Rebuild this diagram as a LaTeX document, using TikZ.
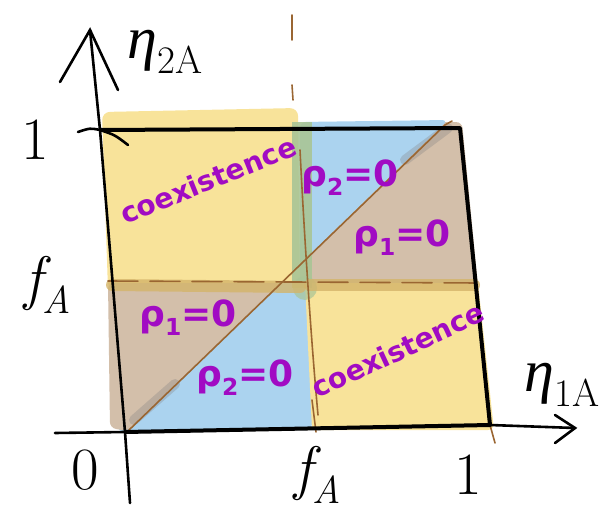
\documentclass[tikz,border=0pt]{standalone}
\usepackage{fontspec}
\newfontfamily\grk{Liberation Serif}
\newfontfamily\hand{DejaVu Sans}
\newcommand{\lowsub}[1]{\raisebox{-0.25em}{\scalebox{0.65}{#1}}}
\definecolor{yel}{HTML}{F8E39A}
\definecolor{blu}{HTML}{ABD3EF}
\definecolor{brn}{HTML}{D3BFAA}
\definecolor{grn}{HTML}{A9C596}
\definecolor{lin}{HTML}{9A6632}
\definecolor{pur}{HTML}{A10BC3}
\definecolor{band}{HTML}{D4B46A}
\begin{document}
\begin{tikzpicture}[x=1pt,y=-1pt,
  axis/.style={line width=2.6pt,black,line cap=round},
  frame/.style={line width=4pt,black,line join=round},
  guide/.style={line width=1.6pt,lin,line cap=round},
  blab/.style={font=\fontsize{60}{60}\selectfont,black},
  plab/.style={font=\fontsize{36}{36}\selectfont\hand\bfseries,pur},
  clab/.style={font=\fontsize{28}{28}\selectfont\hand\bfseries,pur}]
\useasboundingbox (0,0) rectangle (610,513);
% fills
\fill[yel,rounded corners=8pt] (102,112) -- (298,108) -- (300,290) -- (108,290) -- cycle;
\fill[brn,rounded corners=6pt] (300,124) -- (462,122) -- (478,286) -- (300,286) -- cycle;
\fill[blu,rounded corners=6pt] (300,122) -- (448,120) -- (300,264) -- cycle;
\fill[blu,rounded corners=6pt] (108,283) -- (310,283) -- (312,430) -- (118,432) -- cycle;
\fill[brn,rounded corners=6pt] (108,283) -- (282,283) -- (128,431) -- (110,428) -- cycle;
\fill[yel,rounded corners=6pt] (305,283) -- (478,283) -- (494,430) -- (312,430) -- cycle;
\fill[grn,opacity=0.9] (292,122) rectangle (312,288);
\fill[grn,opacity=0.7] (305,288) circle (12pt);
\draw[line width=12pt,band,opacity=0.8,line cap=round] (112,285) -- (300,287);
\draw[line width=12pt,band,opacity=0.8,line cap=round] (310,285) -- (474,285);
\draw[line width=10pt,gray,opacity=0.3,line cap=round] (134,420) -- (175,384);
\draw[line width=10pt,gray,opacity=0.3,line cap=round] (405,160) -- (448,128);
% coordinates
\coordinate (tl) at (100,130);
\coordinate (tr) at (460,128);
\coordinate (br) at (490,425);
\coordinate (bl) at (125,432);
\coordinate (ytop) at (90,30);
\coordinate (ybot) at (130,503);
\coordinate (xl) at (55,433);
\coordinate (xr) at (575,428);
% guides
\draw[guide] (128,431) -- (445,125) -- (452,121);
\draw[guide,dash pattern=on 30pt off 12pt] (108,281) -- (478,283);
\draw[guide] (292,15) -- (292,40);
\draw[guide] (292,85) -- (293,100);
\draw[guide] (300,150) .. controls (305,250) and (312,350) .. (318,415);
\draw[guide] (312,400) -- (316,432);
\draw[guide] (490,425) -- (495,443);
% frame and axes
\draw[frame] (tl) -- (tr) -- (br) -- (bl);
\draw[axis] (ybot) -- (bl) -- (tl) -- (ytop);
\draw[axis] (60,82) -- (ytop) -- (118,90);
\draw[axis] (xl) -- (bl) -- (br) -- (xr);
\draw[axis] (555,415) -- (xr) -- (555,443);
\draw[axis] (78,132) .. controls (90,128) .. (100,130) .. controls (115,135) .. (128,145);
% labels
\node[blab] (eta2) at (165,52) {{\grk\itshape η}\lowsub{2A}};
\node[blab] (eta1) at (562,385) {{\grk\itshape η}\lowsub{1A}};
\node[blab] (one) at (35,140) {1};
\node[blab] (fa) at (48,285) {\itshape f\lowsub{A}};
\node[blab] (zero) at (85,470) {0};
\node[blab] (fa2) at (318,475) {\itshape f\lowsub{A}};
\node[blab] (one2) at (468,475) {1};
\node[clab,rotate=22] (co1) at (208,180) {coexistence};
\node[clab,rotate=25] (co2) at (398,350) {coexistence};
\node[plab] (r2a) at (350,178) {ρ\lowsub{2}=0};
\node[plab] (r1a) at (402,238) {ρ\lowsub{1}=0};
\node[plab] (r1b) at (188,318) {ρ\lowsub{1}=0};
\node[plab] (r2b) at (245,378) {ρ\lowsub{2}=0};
\end{tikzpicture}
\end{document}
